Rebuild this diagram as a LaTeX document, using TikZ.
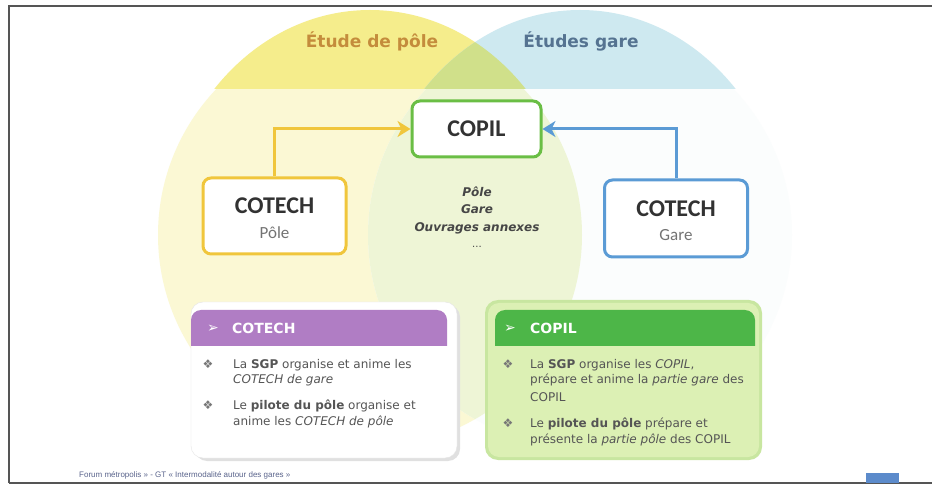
\documentclass[tikz,border=0pt]{standalone}
\usepackage{fontspec}
\setmainfont{DejaVu Sans}
\newfontfamily\carl{Carlito}
\newfontfamily\libs{Liberation Sans}
\usetikzlibrary{arrows.meta}
\definecolor{yband}{RGB}{245,237,140}
\definecolor{bband}{RGB}{206,233,240}
\definecolor{gband}{RGB}{208,224,138}
\definecolor{ypale}{RGB}{251,248,212}
\definecolor{bpale}{RGB}{251,253,253}
\definecolor{gpale}{RGB}{238,245,214}
\definecolor{framec}{RGB}{85,85,85}
\definecolor{ytitle}{RGB}{196,140,60}
\definecolor{btitle}{RGB}{85,115,145}
\definecolor{copilc}{RGB}{106,190,69}
\definecolor{polec}{RGB}{240,198,60}
\definecolor{garec}{RGB}{91,155,213}
\definecolor{darktext}{RGB}{50,50,50}
\definecolor{subgray}{RGB}{115,115,115}
\definecolor{midgray}{RGB}{70,70,70}
\definecolor{bodygray}{RGB}{85,85,85}
\definecolor{purplec}{RGB}{176,125,196}
\definecolor{greenhead}{RGB}{77,182,72}
\definecolor{greencard}{RGB}{220,240,180}
\definecolor{greenedge}{RGB}{200,230,160}
\definecolor{footc}{RGB}{90,100,140}
\definecolor{bluesq}{RGB}{92,139,203}
\tikzset{
  topbox/.style={draw, line width=3pt, fill=white, rounded corners=8pt, inner sep=0pt},
  bigtxt/.style={anchor=base, inner sep=0pt, text=darktext, font=\carl\bfseries\fontsize{24}{28}\selectfont},
  subtxt/.style={anchor=base, inner sep=0pt, text=subgray, font=\carl\fontsize{17}{20}\selectfont},
  ttl/.style={anchor=base, inner sep=0pt, font=\bfseries\fontsize{17}{20}\selectfont},
  midtxt/.style={anchor=base, inner sep=0pt, text=midgray, font=\bfseries\itshape\fontsize{12}{14}\selectfont},
  txt/.style={anchor=base west, inner sep=0pt, text=bodygray, font=\fontsize{12}{14}\selectfont},
  bul/.style={anchor=base, inner sep=0pt, text=bodygray!80, font=\fontsize{12}{14}\selectfont},
  headtxt/.style={anchor=base west, inner sep=0pt, text=white, font=\bfseries\fontsize{14}{16}\selectfont},
  headmark/.style={anchor=base, inner sep=0pt, text=white, font=\fontsize{14}{16}\selectfont},
  yarrow/.style={draw=polec, line width=3pt, -{Stealth[length=13pt, width=16pt, inset=4pt]}},
  barrow/.style={draw=garec, line width=3pt, -{Stealth[length=13pt, width=16pt, inset=4pt]}},
}
\begin{document}
\begin{tikzpicture}[x=1pt,y=-1pt]
\useasboundingbox (0,0) rectangle (932,486);
\fill[white] (0,0) rectangle (932,486);
% circles
\begin{scope}
  \clip (9,6) rectangle (932,483);
  \begin{scope}
    \clip (0,89) rectangle (932,486);
    \fill[ypale] (370,235) circle [radius=212];
    \fill[bpale] (580,235) circle [radius=212];
    \begin{scope}
      \clip (370,235) circle [radius=212];
      \fill[gpale] (580,235) circle [radius=212];
    \end{scope}
  \end{scope}
  \begin{scope}
    \clip (0,0) rectangle (932,89);
    \fill[yband] (370,250) ellipse [x radius=210, y radius=240];
    \fill[bband] (580,250) ellipse [x radius=210, y radius=240];
    \begin{scope}
      \clip (370,250) ellipse [x radius=210, y radius=240];
      \fill[gband] (580,250) ellipse [x radius=210, y radius=240];
    \end{scope}
  \end{scope}
\end{scope}
% frame
\draw[framec, line width=1.5pt] (9,483) -- (9,6) -- (932,6);
\draw[framec, line width=1.5pt] (9,483) -- (932,483);
% titles
\node[ttl, text=ytitle] (tpole) at (372,48) {Étude de pôle};
\node[ttl, text=btitle] (tgare) at (581,48) {Études gare};
% top boxes
\node[topbox, draw=copilc, minimum width=129pt, minimum height=56pt] (copil) at (476.5,129) {};
\node[bigtxt] (copilT) at (476.5,137) {COPIL};
\node[topbox, draw=polec, minimum width=143pt, minimum height=76pt] (cotp) at (274.5,216) {};
\node[bigtxt] (cotpT) at (274.5,214) {COTECH};
\node[subtxt] (cotpS) at (274.5,238.5) {Pôle};
\node[topbox, draw=garec, minimum width=143pt, minimum height=77pt] (cotg) at (676,218.5) {};
\node[bigtxt] (cotgT) at (676,216.5) {COTECH};
\node[subtxt] (cotgS) at (676,241) {Gare};
\draw[yarrow] (cotp.north) |- (copil.west);
\draw[barrow] (cotg.north) |- (copil.east);
% middle list
\node[midtxt] (m1) at (477,196.5) {Pôle};
\node[midtxt] (m2) at (477,213.5) {Gare};
\node[midtxt] (m3) at (477,231.5) {Ouvrages annexes};
\node[midtxt, font=\fontsize{10}{12}\selectfont] (m4) at (477,248) {...};
% left card
\fill[black!12] (195,305) [rounded corners=12pt] rectangle (460,461);
\fill[white, draw=black!10] (191,302) [rounded corners=12pt] rectangle (457,458);
\fill[purplec] (191,346) [rounded corners=10pt] -- (191,310) -- (447,310) [sharp corners] -- (447,346) -- cycle;
\node[headmark] (lhm) at (213,333) {➢};
\node[headtxt] (lht) at (232,333.5) {COTECH};
\node[bul] (lb1) at (208,368) {❖};
\node[txt] (l1a) at (233,368) {La \textbf{SGP} organise et anime les};
\node[txt] (l1b) at (233,384) {\textit{COTECH de gare}};
\node[bul] (lb2) at (208,409) {❖};
\node[txt] (l2a) at (233,409) {Le \textbf{pilote du pôle} organise et};
\node[txt] (l2b) at (233,425) {anime les \textit{COTECH de pôle}};
% right card
\fill[greenedge] (485,300) [rounded corners=13pt] rectangle (762,460);
\fill[greencard] (488,303) [rounded corners=11pt] rectangle (759,457);
\fill[greenhead] (495,346) [rounded corners=10pt] -- (495,310) -- (755,310) [sharp corners] -- (755,346) -- cycle;
\node[headmark] (rhm) at (510,333) {➢};
\node[headtxt] (rht) at (530,333.5) {COPIL};
\node[bul] (rb1) at (508,368) {❖};
\node[txt] (r1a) at (530,368) {La \textbf{SGP} organise les \textit{COPIL},};
\node[txt] (r1b) at (530,384) {prépare et anime la \textit{partie gare} des};
\node[txt] (r1c) at (530,401) {COPIL};
\node[bul] (rb2) at (508,427) {❖};
\node[txt] (r2a) at (530,427) {Le \textbf{pilote du pôle} prépare et};
\node[txt] (r2b) at (530,443) {présente la \textit{partie pôle} des COPIL};
% footer
\node[anchor=base west, inner sep=0pt, text=footc, font=\libs\fontsize{8}{9}\selectfont] (foot) at (79,477) {Forum métropolis » - GT « Intermodalité autour des gares »};
\fill[bluesq] (866,473) rectangle (899,483);
\end{tikzpicture}
\end{document}
